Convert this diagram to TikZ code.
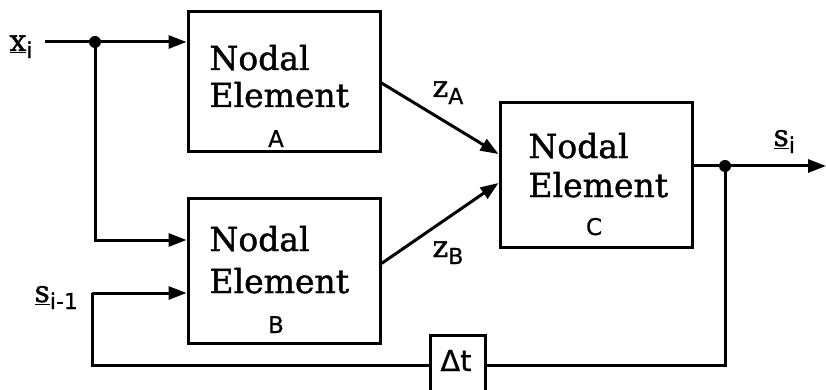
\documentclass[tikz,border=0pt]{standalone}
\usepackage{fontspec}
\setmainfont{DejaVu Serif}[FakeBold=1.2]
\setsansfont{DejaVu Sans}[FakeBold=0.6]
\usetikzlibrary{arrows.meta}
\newcommand{\mysub}[1]{\raisebox{-0.45ex}{\fontsize{22}{22}\sffamily\selectfont #1}}
\begin{document}
\begin{tikzpicture}[x=1pt,y=-1pt,line width=3pt,
  >={Triangle[length=18pt,width=13pt]},
  elem/.style={draw,rectangle,inner sep=0pt,minimum width=192pt},
  big/.style={font=\fontsize{33}{36}\selectfont,inner sep=0pt,anchor=base west},
  tag/.style={font=\fontsize{23}{25}\selectfont\sffamily,inner sep=0pt,anchor=base},
  lab/.style={font=\fontsize{30}{32}\selectfont,inner sep=0pt,anchor=base west},
  dot/.style={circle,fill,inner sep=0pt,minimum size=12pt}]
\useasboundingbox (0,0) rectangle (826,390);
\clip (0,0) rectangle (826,390);
% boxes
\node[elem,minimum height=140pt] (boxA) at (284,82) {};
\node[elem,minimum height=145pt] (boxB) at (284,270.5) {};
\node[elem,minimum height=144pt] (boxC) at (596,175) {};
\node[draw,rectangle,inner sep=0pt,minimum width=55pt,minimum height=70pt] (dt) at (457.5,370) {};
% box texts
\node[big] (nA1) at (208,70) {Nodal};
\node[big] (nA2) at (208,107) {Element};
\node[tag] (tA) at (276,147) {A};
\node[big] (nB1) at (208,251) {Nodal};
\node[big] (nB2) at (208,293) {Element};
\node[tag] (tB) at (276,333) {B};
\node[big] (nC1) at (527,158) {Nodal};
\node[big] (nC2) at (527,197) {Element};
\node[tag] (tC) at (594,235) {C};
\node[font=\fontsize{29}{30}\selectfont\sffamily,inner sep=0pt,anchor=base] (dtl) at (456,371) {Δt};
% labels
\node[lab] (xl) at (8,51) {\underline{x}\mysub{i}};
\node[lab] (sl) at (33,302) {\underline{s}\mysub{i-1}};
\node[lab] (so) at (772,146) {\underline{s}\mysub{i}};
\node[lab] (za) at (431,97) {z\mysub{A}};
\node[lab] (zb) at (431,257) {z\mysub{B}};
% connectors
\coordinate (xin) at (45,42);
\node[dot] (d1) at (95,42) {};
\coordinate (b1) at (95,240);
\draw[->] (xin) -- (xin -| boxA.west);
\draw[->] (d1.center) -- (b1) -- (b1 -| boxB.west);
\coordinate (s1) at (92,293);
\coordinate (s0) at (92,365);
\draw[->] (s1) -- (s1 -| boxB.west);
\draw (s1) -- (s0) -- (s0 -| dt.west);
\node[dot] (d2) at (725,166) {};
\draw (dt.east |- s0) -| (d2.center);
\draw (boxC.east |- d2) -- (d2.center);
\coordinate (oend) at (826,166);
\draw[->] (d2.center) -- (oend);
\draw[->] ([yshift=-1pt]boxA.east) -- ([yshift=21pt]boxC.west);
\draw[->] ([yshift=7pt]boxB.east) -- ([yshift=-8pt]boxC.west);
\end{tikzpicture}
\end{document}
